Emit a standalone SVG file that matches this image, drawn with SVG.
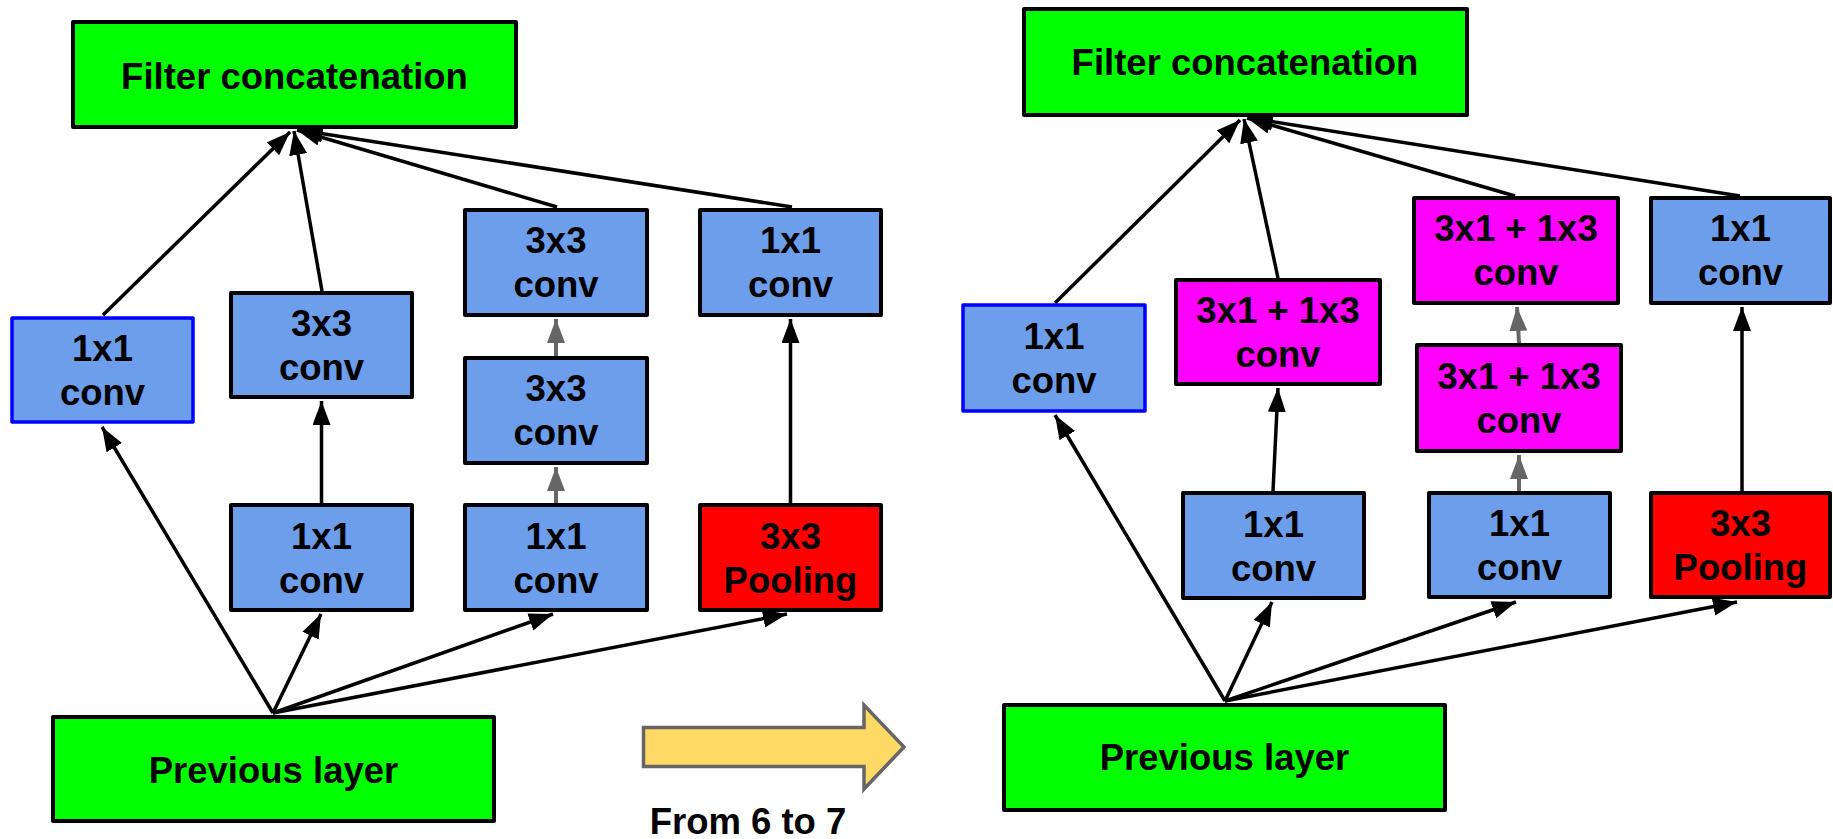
<svg xmlns="http://www.w3.org/2000/svg" width="1833" height="839" viewBox="0 0 1833 839">
  <style>
    .box { stroke: #000; stroke-width: 4; stroke-linejoin: round; }
    .green { fill: #00ff00; }
    .blue { fill: #6d9eeb; }
    .blue-edge { fill: #6d9eeb; stroke: #0000ff; stroke-width: 3.5; stroke-linejoin: round; }
    .red { fill: #ff0000; }
    .magenta { fill: #ff00ff; }
    text { font-family: "Liberation Sans", Arial, sans-serif; font-weight: bold; font-size: 36.5px; fill: #000; text-anchor: middle; }
    .edge { stroke: #000; stroke-width: 3.5; fill: none; marker-end: url(#head); }
    .edge-gray { stroke: #666; stroke-width: 4; fill: none; marker-end: url(#head-gray); }
  </style>
  <defs>
    <marker id="head" markerUnits="userSpaceOnUse" markerWidth="25" markerHeight="19" refX="24" refY="9" orient="auto">
      <path d="M0,0 L24,9 L0,18 z" fill="#000"/>
    </marker>
    <marker id="head-gray" markerUnits="userSpaceOnUse" markerWidth="25" markerHeight="19" refX="24" refY="9" orient="auto">
      <path d="M0,0 L24,9 L0,18 z" fill="#666"/>
    </marker>
  </defs>
  <rect width="1833" height="839" fill="#fff"/>

  <!-- connectors -->
  <g id="connectors">
    <!-- left module: previous layer fan-out -->
    <line class="edge" x1="273" y1="713" x2="102" y2="427"/>
    <line class="edge" x1="273" y1="713" x2="321" y2="614"/>
    <line class="edge" x1="273" y1="713" x2="553" y2="614"/>
    <line class="edge" x1="273" y1="713" x2="787" y2="614"/>
    <!-- left module: branch verticals -->
    <line class="edge" x1="321.5" y1="503" x2="321.5" y2="401"/>
    <line class="edge-gray" x1="556" y1="503" x2="556" y2="467"/>
    <line class="edge-gray" x1="556" y1="356" x2="556" y2="319"/>
    <line class="edge" x1="790.5" y1="503" x2="790.5" y2="319"/>
    <!-- left module: into filter concatenation -->
    <line class="edge" x1="103" y1="315" x2="290" y2="132"/>
    <line class="edge" x1="322" y1="291" x2="294" y2="131"/>
    <line class="edge" x1="557" y1="207" x2="297" y2="130"/>
    <line class="edge" x1="792" y1="207" x2="299" y2="130"/>

    <!-- right module: previous layer fan-out -->
    <line class="edge" x1="1225" y1="701" x2="1055" y2="415"/>
    <line class="edge" x1="1225" y1="701" x2="1272" y2="602"/>
    <line class="edge" x1="1225" y1="701" x2="1516" y2="602"/>
    <line class="edge" x1="1225" y1="701" x2="1737" y2="602"/>
    <!-- right module: branch verticals -->
    <line class="edge" x1="1273" y1="491" x2="1278" y2="388"/>
    <line class="edge-gray" x1="1519" y1="491" x2="1519" y2="455"/>
    <line class="edge-gray" x1="1519" y1="343" x2="1517" y2="307"/>
    <line class="edge" x1="1742" y1="491" x2="1742" y2="307"/>
    <!-- right module: into filter concatenation -->
    <line class="edge" x1="1055" y1="303" x2="1240" y2="120"/>
    <line class="edge" x1="1278" y1="278" x2="1244" y2="119"/>
    <line class="edge" x1="1515" y1="196" x2="1247" y2="118"/>
    <line class="edge" x1="1740" y1="196" x2="1249" y2="118"/>
  </g>

  <!-- left module nodes -->
  <g id="l-concat">
    <rect class="box green" x="73" y="22" width="443" height="105"/>
    <text x="294.5" y="89">Filter concatenation</text>
  </g>
  <g id="l-1x1-a">
    <rect class="blue-edge" x="12" y="318" width="181" height="104"/>
    <text x="102.5" y="361">1x1</text>
    <text x="102.5" y="405">conv</text>
  </g>
  <g id="l-3x3-b">
    <rect class="box blue" x="231" y="293" width="181" height="104"/>
    <text x="321.5" y="336">3x3</text>
    <text x="321.5" y="380">conv</text>
  </g>
  <g id="l-1x1-b">
    <rect class="box blue" x="231" y="505" width="181" height="105"/>
    <text x="321.5" y="549">1x1</text>
    <text x="321.5" y="593">conv</text>
  </g>
  <g id="l-3x3-c2">
    <rect class="box blue" x="465" y="210" width="182" height="105"/>
    <text x="556" y="253">3x3</text>
    <text x="556" y="297">conv</text>
  </g>
  <g id="l-3x3-c1">
    <rect class="box blue" x="465" y="358" width="182" height="105"/>
    <text x="556" y="401">3x3</text>
    <text x="556" y="445">conv</text>
  </g>
  <g id="l-1x1-c">
    <rect class="box blue" x="465" y="505" width="182" height="105"/>
    <text x="556" y="549">1x1</text>
    <text x="556" y="593">conv</text>
  </g>
  <g id="l-1x1-d">
    <rect class="box blue" x="700" y="210" width="181" height="105"/>
    <text x="790.5" y="253">1x1</text>
    <text x="790.5" y="297">conv</text>
  </g>
  <g id="l-pool">
    <rect class="box red" x="700" y="505" width="181" height="105"/>
    <text x="790.5" y="549">3x3</text>
    <text x="790.5" y="593">Pooling</text>
  </g>
  <g id="l-prev">
    <rect class="box green" x="53" y="717" width="441" height="104"/>
    <text x="273.5" y="783">Previous layer</text>
  </g>

  <!-- transition arrow -->
  <g id="transition">
    <polygon points="643.5,727.5 864,727.5 864,705 904,747 864,789 864,766.5 643.5,766.5" fill="#ffd966" stroke="#666" stroke-width="3.5" stroke-linejoin="miter"/>
    <text x="748" y="834">From 6 to 7</text>
  </g>

  <!-- right module nodes -->
  <g id="r-concat">
    <rect class="box green" x="1024" y="9" width="443" height="106"/>
    <text x="1245" y="75">Filter concatenation</text>
  </g>
  <g id="r-1x1-a">
    <rect class="blue-edge" x="963" y="305" width="182" height="106"/>
    <text x="1054" y="349">1x1</text>
    <text x="1054" y="393">conv</text>
  </g>
  <g id="r-sep-b">
    <rect class="box magenta" x="1176" y="280" width="204" height="104"/>
    <text x="1278" y="323">3x1 + 1x3</text>
    <text x="1278" y="367">conv</text>
  </g>
  <g id="r-1x1-b">
    <rect class="box blue" x="1183" y="493" width="181" height="105"/>
    <text x="1273.5" y="537">1x1</text>
    <text x="1273.5" y="581">conv</text>
  </g>
  <g id="r-sep-c2">
    <rect class="box magenta" x="1414" y="198" width="204" height="105"/>
    <text x="1516" y="241">3x1 + 1x3</text>
    <text x="1516" y="285">conv</text>
  </g>
  <g id="r-sep-c1">
    <rect class="box magenta" x="1417" y="345" width="204" height="106"/>
    <text x="1519" y="389">3x1 + 1x3</text>
    <text x="1519" y="433">conv</text>
  </g>
  <g id="r-1x1-c">
    <rect class="box blue" x="1429" y="493" width="181" height="104"/>
    <text x="1519.5" y="536">1x1</text>
    <text x="1519.5" y="580">conv</text>
  </g>
  <g id="r-1x1-d">
    <rect class="box blue" x="1651" y="198" width="179" height="105"/>
    <text x="1740.5" y="241">1x1</text>
    <text x="1740.5" y="285">conv</text>
  </g>
  <g id="r-pool">
    <rect class="box red" x="1651" y="493" width="179" height="104"/>
    <text x="1740.5" y="536">3x3</text>
    <text x="1740.5" y="580">Pooling</text>
  </g>
  <g id="r-prev">
    <rect class="box green" x="1004" y="705" width="441" height="105"/>
    <text x="1224.5" y="770">Previous layer</text>
  </g>
</svg>
